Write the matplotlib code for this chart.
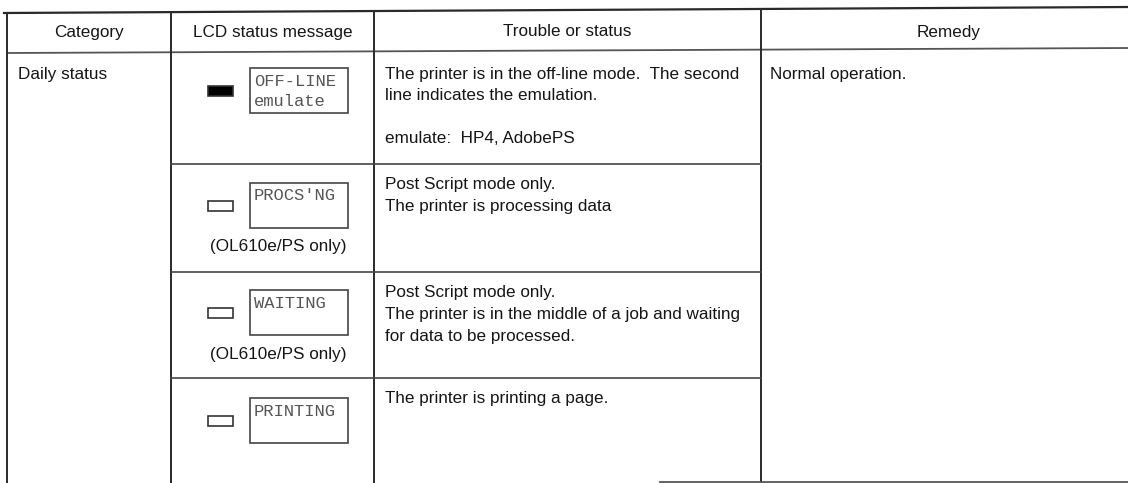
import matplotlib
matplotlib.use("Agg")
import matplotlib.pyplot as plt
from matplotlib.patches import Rectangle

# ---------------- data ----------------
headers = ["Category", "LCD status message", "Trouble or status", "Remedy"]
category = "Daily status"
lcd_line1 = ["OFF-LINE", "PROCS'NG", "WAITING", "PRINTING"]
lcd_line2 = ["emulate", "", "", ""]
indicator_on = [True, False, False, False]
model_note = ["", "(OL610e/PS only)", "(OL610e/PS only)", ""]
trouble = [
    ["The printer is in the off-line mode.  The second",
     "line indicates the emulation.", "", "emulate:  HP4, AdobePS"],
    ["Post Script mode only.", "The printer is processing data"],
    ["Post Script mode only.",
     "The printer is in the middle of a job and waiting",
     "for data to be processed."],
    ["The printer is printing a page."],
]
remedy = "Normal operation."

# ---------------- layout ----------------
W, H = 1128, 483
col_x = [7, 171, 374, 761]
row_y = [53, 164, 272, 378, 483]
top_left, top_right = 13, 7
line_h = 21.5

fig = plt.figure(figsize=(W / 100, H / 100), dpi=100)
ax = fig.add_axes([0, 0, 1, 1])
ax.set_xlim(0, W)
ax.set_ylim(H, 0)
ax.axis("off")

lc = "#2a2a2a"
tc = "#151515"
font = "Liberation Sans"
fs = 12.3
mono_fs = 12.3


def top_at(x):
    return top_left + (top_right - top_left) * (x - 4) / (W - 4)


# outer / header lines (slightly skewed like the scan)
ax.plot([4, W], [top_left, top_right], color=lc, lw=1.6)
ax.plot([col_x[0], W], [row_y[0], row_y[0] - 5], color="#555", lw=1.3)
for x in col_x:
    ax.plot([x, x], [top_at(x), H], color=lc, lw=1.4)
for y in row_y[1:4]:
    ax.plot([col_x[1], col_x[3]], [y, y], color="#444", lw=1.2)
ax.plot([660, W], [H - 1.5, H - 1.5], color="#555", lw=1.3)

# headers
col_right = col_x[1:] + [W + 8]
for i, h in enumerate(headers):
    cx = (col_x[i] + col_right[i]) / 2
    ax.text(cx, 32, h, ha="center", va="center", fontsize=fs,
            family=font, color=tc)

# category and remedy
ax.text(col_x[0] + 11, row_y[0] + 22, category, ha="left", va="center",
        fontsize=fs, family=font, color=tc)
ax.text(col_x[3] + 9, row_y[0] + 22, remedy, ha="left", va="center",
        fontsize=fs, family=font, color=tc)

# rows
box_x, box_w, box_h = 250, 98, 45
ind_x, ind_w, ind_h = 208, 25, 10
box_off = [15, 19, 18, 20]
for r in range(4):
    top = row_y[r]
    # trouble text
    for k, line in enumerate(trouble[r]):
        if line:
            ax.text(col_x[2] + 11, top + 21 + k * line_h, line, ha="left",
                    va="center", fontsize=fs, family=font, color=tc)
    # LCD box
    by = top + box_off[r]
    ax.add_patch(Rectangle((box_x, by), box_w, box_h, fill=False,
                           ec="#444", lw=1.2))
    ax.text(box_x + 4, by + 13, lcd_line1[r], ha="left", va="center",
            fontsize=mono_fs, family="Liberation Mono", color="#555")
    if lcd_line2[r]:
        ax.text(box_x + 4, by + 33, lcd_line2[r], ha="left", va="center",
                fontsize=mono_fs, family="Liberation Mono", color="#555")
    # indicator
    iy = by + box_h / 2 - ind_h / 2
    ax.add_patch(Rectangle((ind_x, iy), ind_w, ind_h,
                           fc="black" if indicator_on[r] else "white",
                           ec="#333", lw=1.2))
    if model_note[r]:
        ax.text(278, by + box_h + 19, model_note[r], ha="center",
                va="center", fontsize=fs, family=font, color=tc)

fig.savefig("out.png", dpi=100)
